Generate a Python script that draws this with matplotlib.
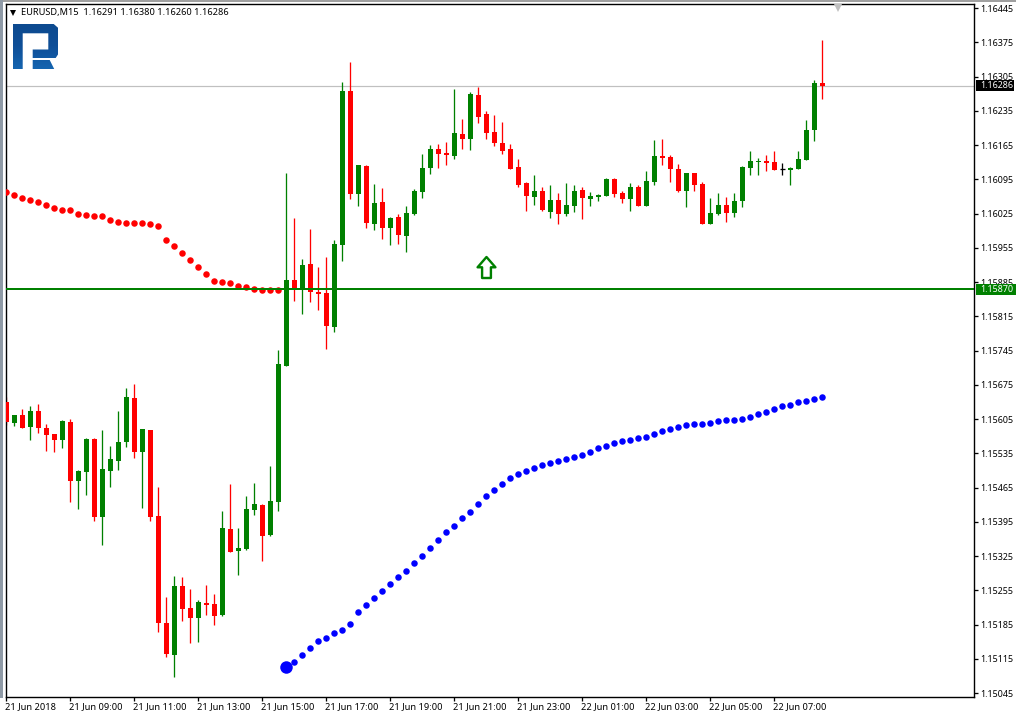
import numpy as np
import matplotlib
matplotlib.use('Agg')
import matplotlib.pyplot as plt
from matplotlib.colors import LinearSegmentedColormap
from matplotlib.patches import PathPatch, Rectangle
from matplotlib.path import Path
from matplotlib.transforms import ScaledTranslation

# M15 bars, prices
opens = [1.15640, 1.15597, 1.15613, 1.15588, 1.15621, 1.15586, 1.15574, 1.15562, 1.15599, 1.15478,
         1.15497, 1.15564, 1.15405, 1.15499, 1.15519, 1.15558, 1.15648, 1.15537, 1.15582, 1.15407,
         1.15188, 1.15122, 1.15264, 1.15219, 1.15198, 1.15229, 1.15227, 1.15204, 1.15380, 1.15335,
         1.15339, 1.15419, 1.15429, 1.15368, 1.15435, 1.15713, 1.15889, 1.15871, 1.15922, 1.15864,
         1.15862, 1.15793, 1.15960, 1.16275, 1.16065, 1.16122, 1.16003, 1.16048, 1.15995, 1.16018,
         1.15979, 1.16024, 1.16069, 1.16118, 1.16157, 1.16148, 1.16142, 1.16187, 1.16177, 1.16267,
         1.16228, 1.16191, 1.16169, 1.16157, 1.16120, 1.16087, 1.16059, 1.16071, 1.16028, 1.16053,
         1.16024, 1.16040, 1.16073, 1.16055, 1.16059, 1.16061, 1.16096, 1.16067, 1.16055, 1.16079,
         1.16040, 1.16089, 1.16142, 1.16140, 1.16116, 1.16071, 1.16108, 1.16085, 1.16003, 1.16024,
         1.16042, 1.16026, 1.16051, 1.16118, 1.16130, 1.16132, 1.16130, 1.16115, 1.16114, 1.16116,
         1.16134, 1.16196, 1.16291]
highs = [1.15649, 1.15614, 1.15625, 1.15631, 1.15635, 1.15595, 1.15574, 1.15602, 1.15605, 1.15501,
         1.15566, 1.15566, 1.15582, 1.15550, 1.15621, 1.15668, 1.15676, 1.15584, 1.15582, 1.15466,
         1.15241, 1.15284, 1.15282, 1.15257, 1.15235, 1.15266, 1.15247, 1.15417, 1.15472, 1.15382,
         1.15447, 1.15474, 1.15432, 1.15509, 1.15746, 1.16108, 1.16016, 1.15932, 1.15993, 1.15916,
         1.15936, 1.15971, 1.16294, 1.16334, 1.16124, 1.16124, 1.16085, 1.16077, 1.16018, 1.16024,
         1.16040, 1.16075, 1.16146, 1.16165, 1.16167, 1.16171, 1.16279, 1.16218, 1.16273, 1.16283,
         1.16234, 1.16226, 1.16212, 1.16167, 1.16136, 1.16089, 1.16104, 1.16079, 1.16083, 1.16067,
         1.16087, 1.16083, 1.16079, 1.16069, 1.16065, 1.16098, 1.16098, 1.16071, 1.16087, 1.16083,
         1.16112, 1.16175, 1.16177, 1.16144, 1.16126, 1.16108, 1.16108, 1.16089, 1.16057, 1.16067,
         1.16059, 1.16067, 1.16122, 1.16153, 1.16138, 1.16144, 1.16153, 1.16128, 1.16120, 1.16153,
         1.16216, 1.16298, 1.16380]
lows = [1.15593, 1.15591, 1.15586, 1.15562, 1.15576, 1.15539, 1.15537, 1.15546, 1.15435, 1.15421,
        1.15450, 1.15396, 1.15347, 1.15466, 1.15501, 1.15548, 1.15525, 1.15423, 1.15396, 1.15170,
        1.15118, 1.15077, 1.15192, 1.15147, 1.15149, 1.15204, 1.15184, 1.15202, 1.15333, 1.15286,
        1.15337, 1.15409, 1.15315, 1.15366, 1.15417, 1.15713, 1.15846, 1.15819, 1.15844, 1.15828,
        1.15748, 1.15783, 1.15928, 1.16055, 1.16040, 1.15995, 1.15991, 1.15973, 1.15960, 1.15963,
        1.15946, 1.16022, 1.16056, 1.16106, 1.16118, 1.16124, 1.16136, 1.16157, 1.16155, 1.16210,
        1.16177, 1.16163, 1.16146, 1.16116, 1.16079, 1.16030, 1.16042, 1.16030, 1.16016, 1.16003,
        1.16020, 1.16028, 1.16014, 1.16040, 1.16051, 1.16061, 1.16059, 1.16046, 1.16030, 1.16040,
        1.16040, 1.16083, 1.16124, 1.16089, 1.16069, 1.16038, 1.16071, 1.16003, 1.16003, 1.16022,
        1.16008, 1.16018, 1.16038, 1.16104, 1.16104, 1.16112, 1.16114, 1.16104, 1.16083, 1.16116,
        1.16134, 1.16173, 1.16260]
closes = [1.15599, 1.15613, 1.15586, 1.15621, 1.15586, 1.15572, 1.15562, 1.15601, 1.15478, 1.15499,
          1.15564, 1.15405, 1.15503, 1.15523, 1.15558, 1.15650, 1.15537, 1.15584, 1.15405, 1.15188,
          1.15125, 1.15264, 1.15216, 1.15198, 1.15231, 1.15225, 1.15202, 1.15382, 1.15333, 1.15341,
          1.15421, 1.15431, 1.15366, 1.15437, 1.15717, 1.15889, 1.15873, 1.15920, 1.15864, 1.15860,
          1.15795, 1.15963, 1.16275, 1.16065, 1.16124, 1.16005, 1.16046, 1.15995, 1.16016, 1.15981,
          1.16026, 1.16071, 1.16118, 1.16157, 1.16146, 1.16144, 1.16189, 1.16177, 1.16269, 1.16222,
          1.16189, 1.16169, 1.16153, 1.16116, 1.16083, 1.16061, 1.16071, 1.16032, 1.16053, 1.16024,
          1.16042, 1.16071, 1.16057, 1.16061, 1.16063, 1.16096, 1.16065, 1.16055, 1.16079, 1.16040,
          1.16091, 1.16142, 1.16138, 1.16116, 1.16071, 1.16108, 1.16083, 1.16003, 1.16026, 1.16042,
          1.16026, 1.16051, 1.16120, 1.16132, 1.16132, 1.16128, 1.16114, 1.16115, 1.16118, 1.16136,
          1.16196, 1.16292, 1.16286]

# red dots run from the first bar, blue dots from bar 35 to the last one
red_dots = [1.16070, 1.16063, 1.16057, 1.16053, 1.16048, 1.16042, 1.16036, 1.16032, 1.16032, 1.16024,
            1.16022, 1.16020, 1.16020, 1.16012, 1.16008, 1.16006, 1.16006, 1.16006, 1.16004, 1.15999,
            1.15971, 1.15959, 1.15944, 1.15930, 1.15916, 1.15901, 1.15887, 1.15885, 1.15883, 1.15877,
            1.15875, 1.15871, 1.15869, 1.15869, 1.15869]
blue_dots = [1.15099, 1.15109, 1.15123, 1.15137, 1.15151, 1.15157, 1.15168, 1.15174, 1.15186, 1.15211,
             1.15225, 1.15239, 1.15253, 1.15268, 1.15282, 1.15294, 1.15311, 1.15325, 1.15341, 1.15358,
             1.15374, 1.15386, 1.15403, 1.15415, 1.15431, 1.15448, 1.15460, 1.15472, 1.15484, 1.15493,
             1.15499, 1.15505, 1.15511, 1.15515, 1.15519, 1.15523, 1.15527, 1.15531, 1.15538, 1.15546,
             1.15550, 1.15556, 1.15560, 1.15562, 1.15566, 1.15568, 1.15574, 1.15580, 1.15585, 1.15589,
             1.15593, 1.15595, 1.15595, 1.15597, 1.15601, 1.15603, 1.15603, 1.15605, 1.15609, 1.15615,
             1.15619, 1.15625, 1.15632, 1.15634, 1.15640, 1.15642, 1.15646, 1.15650]

level = 1.15870
last_price = 1.16286
arrow_bar = 60
arrow_price = 1.15915

price_ticks = [1.15045 + 0.0007 * i for i in range(21)]
time_labels = ['21 Jun 2018', '21 Jun 09:00', '21 Jun 11:00', '21 Jun 13:00', '21 Jun 15:00',
               '21 Jun 17:00', '21 Jun 19:00', '21 Jun 21:00', '21 Jun 23:00', '22 Jun 01:00',
               '22 Jun 03:00', '22 Jun 05:00', '22 Jun 07:00']
title = 'EURUSD,M15  1.16291 1.16380 1.16260 1.16286'

W, H = 1016, 716
plt.rcParams['font.family'] = ['Noto Sans', 'DejaVu Sans']
plt.rcParams['font.size'] = 6.65
PRICE_SIZE = 6.45
PX = 0.72  # one pixel in points at dpi 100

fig = plt.figure(figsize=(W / 100, H / 100), dpi=100, facecolor='white')
left, right, top, bottom = 5.7, 974.3, 4.3, 696.7
ax = fig.add_axes([left / W, 1 - bottom / H, (right - left) / W, (bottom - top) / H])
ax.set_xlim((left - 6.3) / 8, (right - 6.3) / 8)
ax.set_ylim(1.150375, 1.164526)

# window edges
fig.add_artist(Rectangle((0, 1 - 1.5 / H), 1, 1.5 / H, transform=fig.transFigure, fc='#a0a0a0', ec='none'))
fig.add_artist(Rectangle((0, 1 - 698 / H), 3 / W, 698 / H, transform=fig.transFigure, fc='#8f9aa6', ec='none'))

x = np.arange(len(opens))
opens, highs, lows, closes = map(np.array, (opens, highs, lows, closes))
up = closes > opens
down = closes < opens
flat = closes == opens

ax.axhline(last_price, color='#c0c0c0', lw=1.2 * PX, zorder=1)

GREEN, RED = '#008000', '#ff0000'
body_w = 5 / 8
for mask, col in ((up, GREEN), (down, RED), (flat, 'black')):
    ax.vlines(x[mask], lows[mask], highs[mask], color=col, lw=1.3 * PX, zorder=2)
    ax.bar(x[mask], np.abs(closes - opens)[mask], width=body_w, bottom=np.minimum(opens, closes)[mask],
           color=col, lw=0, antialiased=False, zorder=3)
ax.hlines(closes[flat], x[flat] - body_w / 2, x[flat] + body_w / 2, color='black', lw=1.3 * PX, zorder=3)

ax.plot(np.arange(len(red_dots)), red_dots, ls='none', marker='o', ms=6.5 * PX, mfc='#ff0000', mew=0, zorder=4)
blue_x = np.arange(35, 35 + len(blue_dots))
ax.plot(blue_x, blue_dots, ls='none', marker='o', ms=6.5 * PX, mfc='#0000ff', mew=0, zorder=4)
ax.plot(blue_x[:1], blue_dots[:1], ls='none', marker='o', ms=12.5 * PX, mfc='#0000ff', mew=0, zorder=5)

ax.axhline(level, color=GREEN, lw=2 * PX, zorder=6)

# hollow up arrow
arrow = Path([(0, 1), (0.85, 0.02), (0.42, 0.02), (0.42, -1), (-0.42, -1), (-0.42, 0.02), (-0.85, 0.02), (0, 1)],
             closed=True)
ax.plot([arrow_bar], [arrow_price], ls='none', marker=arrow, ms=21 * PX, mfc='white', mec=GREEN, mew=2.4 * PX,
        zorder=6)

# axes
for side in ax.spines.values():
    side.set_linewidth(1.4 * PX)
ax.yaxis.tick_right()
ax.set_yticks(price_ticks)
ax.set_yticklabels(['%.5f' % p for p in price_ticks])
ax.set_xticks(np.arange(0, len(time_labels) * 8, 8))
ax.set_xticklabels(time_labels, ha='left')
ax.tick_params(axis='y', length=4 * PX, width=1.3 * PX, pad=1.7, labelsize=PRICE_SIZE)
ax.tick_params(axis='x', length=4 * PX, width=1.3 * PX, pad=1.2)
shift = ScaledTranslation(-1 / 100, 0, fig.dpi_scale_trans)
for lab in ax.get_xticklabels():
    lab.set_transform(lab.get_transform() + shift)

# price tags on the right scale
for price, col, tag_w in ((last_price, 'black', 38), (level, GREEN, 40)):
    y_fig = ax.transData.transform((0, price))[1]
    fig.add_artist(Rectangle((976 / W, (y_fig - 5.5) / H), tag_w / W, 11 / H, transform=fig.transFigure,
                             fc=col, ec='none', zorder=10))
    fig.text(980.2 / W, y_fig / H, '%.5f' % price, color='white', va='center', ha='left', zorder=11,
             fontsize=PRICE_SIZE)

# header
fig.text(21 / W, 1 - 12.5 / H, title, color='black', va='center', ha='left')
fig.add_artist(plt.Line2D([12.7 / W], [1 - 12.5 / H], marker='v', ms=5.5 * PX, mfc='black', mew=0, ls='none',
                          transform=fig.transFigure))
# shift marker on top of the chart
fig.add_artist(plt.Line2D([837.5 / W], [1 - 7.5 / H], marker='v', ms=8 * PX, mfc='#c0c0c0', mew=0, ls='none',
                          transform=fig.transFigure))

# logo
logo = fig.add_axes([12.7 / W, 1 - 69 / H, 45.6 / W, 45 / H])
logo.set_xlim(0, 45.6)
logo.set_ylim(45, 0)
logo.axis('off')
r_body = [(0, 0), (41, 0), (45.6, 4), (45.6, 30), (43, 34), (20, 34), (20, 25.5), (35.6, 25.5), (35.6, 9.3),
          (10, 9.3), (10, 45), (0, 45), (0, 0)]
r_body_path = Path(r_body, [Path.MOVETO] + [Path.LINETO] * 11 + [Path.CLOSEPOLY])
foot_path = Path([(20, 36), (37, 36), (41.5, 45), (20, 45), (20, 36)],
                 [Path.MOVETO] + [Path.LINETO] * 3 + [Path.CLOSEPOLY])
gradient = np.linspace(0, 1, 64).reshape(-1, 1)
cmap = LinearSegmentedColormap.from_list('logo', ['#0d4a8f', '#0f4f98', '#1565b0'])
for shape in (r_body_path, foot_path):
    patch = PathPatch(shape, fc='none', ec='none')
    logo.add_patch(patch)
    im = logo.imshow(gradient, extent=(0, 45.6, 45, 0), aspect='auto', cmap=cmap)
    im.set_clip_path(patch)

fig.savefig('out.png', dpi=100)
